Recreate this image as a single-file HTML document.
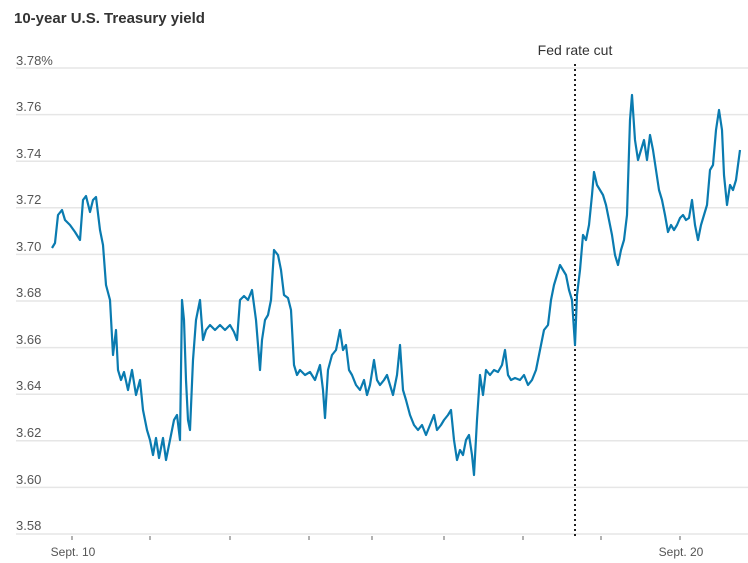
<!DOCTYPE html>
<html><head><style>body{margin:0;background:#fff}svg{display:block}</style></head><body>
<svg width="748" height="563" xmlns="http://www.w3.org/2000/svg" font-family="Liberation Sans, sans-serif">
<text x="14" y="23" font-size="15" font-weight="bold" fill="#333">10-year U.S. Treasury yield</text>
<g stroke="#e6e6e6" stroke-width="1.5">
<line x1="16" x2="748" y1="68" y2="68"/><line x1="16" x2="748" y1="114.6" y2="114.6"/><line x1="16" x2="748" y1="161.2" y2="161.2"/><line x1="16" x2="748" y1="207.8" y2="207.8"/><line x1="16" x2="748" y1="254.4" y2="254.4"/><line x1="16" x2="748" y1="301" y2="301"/><line x1="16" x2="748" y1="347.6" y2="347.6"/><line x1="16" x2="748" y1="394.2" y2="394.2"/><line x1="16" x2="748" y1="440.8" y2="440.8"/><line x1="16" x2="748" y1="487.4" y2="487.4"/><line x1="16" x2="748" y1="534" y2="534"/>
</g>
<g font-size="13" fill="#555">
<text x="16" y="65">3.78%</text><text x="16" y="111">3.76</text><text x="16" y="158">3.74</text><text x="16" y="204">3.72</text><text x="16" y="251">3.70</text><text x="16" y="297">3.68</text><text x="16" y="344">3.66</text><text x="16" y="390">3.64</text><text x="16" y="437">3.62</text><text x="16" y="484">3.60</text><text x="16" y="530">3.58</text>
</g>
<g stroke="#666" stroke-width="1">
<line x1="72" x2="72" y1="536" y2="540"/><line x1="150" x2="150" y1="536" y2="540"/><line x1="230" x2="230" y1="536" y2="540"/><line x1="309" x2="309" y1="536" y2="540"/><line x1="372" x2="372" y1="536" y2="540"/><line x1="444" x2="444" y1="536" y2="540"/><line x1="523" x2="523" y1="536" y2="540"/><line x1="601" x2="601" y1="536" y2="540"/><line x1="680" x2="680" y1="536" y2="540"/>
</g>
<g font-size="12" fill="#555" text-anchor="middle"><text x="73" y="556">Sept. 10</text><text x="681" y="556">Sept. 20</text></g>
<text x="575" y="55" font-size="14" fill="#333" text-anchor="middle">Fed rate cut</text>
<line x1="575" x2="575" y1="64" y2="538" stroke="#222" stroke-width="2" stroke-dasharray="2,3"/>
<polyline fill="none" stroke="#0a7bb0" stroke-width="2.2" stroke-linejoin="round" points="52,248 55,243 58,215 62,210 65,220 70,225 75,232 80,240 83,200 86,196 90,212 93,200 96,197 100,230 103,245 106,285 110,300 113,355 116,330 118,370 121,380 124,372 128,390 132,370 136,395 140,380 143,410 147,430 150,440 153,455 156,438 159,458 163,438 166,460 170,440 174,420 177,415 180,440 182,300 184,320 186,380 188,420 190,430 193,360 196,320 200,300 203,340 206,330 210,325 215,330 220,325 225,330 230,325 234,332 237,340 240,300 244,296 248,300 252,290 256,320 260,370 262,340 265,320 268,315 271,300 274,250 278,255 281,270 284,295 288,298 291,310 294,365 297,375 300,370 305,375 310,372 315,380 320,365 323,390 325,418 328,370 332,355 336,350 340,330 343,350 346,345 349,370 352,375 356,385 360,390 364,380 367,395 370,385 374,360 377,380 380,385 384,380 387,375 390,385 393,395 397,375 400,345 403,390 406,400 410,415 414,425 418,430 422,425 426,435 430,425 434,415 437,430 441,425 444,420 448,415 451,410 454,440 457,460 460,450 463,455 466,440 469,435 472,455 474,475 477,420 480,375 483,395 486,370 490,375 494,370 498,372 502,365 505,350 508,375 511,380 515,378 520,380 524,375 528,385 532,380 536,370 540,350 544,330 548,325 551,300 554,285 557,275 560,265 563,270 566,275 569,290 572,300 575,345 577,295 580,270 583,235 586,240 589,225 592,195 594,172 597,185 600,190 603,195 606,205 609,220 612,235 615,255 618,265 621,250 624,240 627,215 630,120 632,95 635,140 638,160 641,150 644,140 647,160 650,135 653,150 656,170 659,190 662,200 665,215 668,232 671,225 674,230 677,225 680,218 683,215 686,220 689,218 692,200 695,225 698,240 701,225 704,215 707,205 710,170 713,165 716,130 719,110 722,130 724,175 727,205 730,185 733,190 736,180 740,150"/>
</svg>
</body></html>
